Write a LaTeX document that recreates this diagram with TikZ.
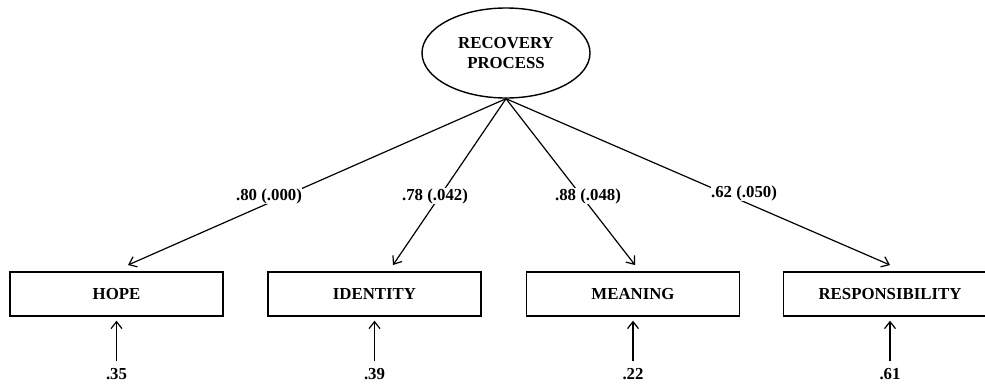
\documentclass[tikz,border=0pt]{standalone}
\usepackage{fontspec}
\setmainfont{Liberation Serif}
\usetikzlibrary{arrows.meta,shapes.geometric}
\begin{document}
\begin{tikzpicture}[x=1pt,y=-1pt,
  txt/.style={font=\fontsize{16.8}{20}\selectfont\bfseries},
  latent/.style={ellipse,draw,line width=1.4pt,minimum width=168pt,minimum height=90pt,inner sep=0pt,txt,align=center},
  obs/.style={rectangle,draw,line width=1.4pt,minimum width=213pt,minimum height=44pt,inner sep=0pt,txt},
  wlab/.style={txt,fill=white,inner sep=0.5pt},
  elab/.style={txt,inner sep=0pt},
  conn/.style={line width=1.2pt,-{Straight Barb[length=7pt,width=11pt,line width=1.2pt]}}
]
\useasboundingbox (0,0) rectangle (985,386);
\clip (0,0) rectangle (985,386);
\node[latent] (rp) at (506,53) {RECOVERY\\PROCESS};
\node[obs] (hope) at (116.5,294) {HOPE};
\node[obs] (iden) at (374.5,294) {IDENTITY};
\node[obs] (mean) at (633,294) {MEANING};
\node[obs] (resp) at (890,294) {RESPONSIBILITY};
\coordinate (t1) at (128,265);
\coordinate (t2) at (393,265);
\coordinate (t3) at (635,265);
\coordinate (t4) at (890,265);
\draw[conn] (rp.south) -- (t1);
\draw[conn] (rp.south) -- (t2);
\draw[conn] (rp.south) -- (t3);
\draw[conn] (rp.south) -- (t4);
\node[wlab] (w1) at (269,196) {.80 (.000)};
\node[wlab] (w2) at (435,196) {.78 (.042)};
\node[wlab] (w3) at (588,196) {.88 (.048)};
\node[wlab] (w4) at (744,193) {.62 (.050)};
\node[elab] (e1) at (116.5,374) {.35};
\node[elab] (e2) at (374.5,374) {.39};
\node[elab] (e3) at (633,374) {.22};
\node[elab] (e4) at (890,374) {.61};
\foreach \e/\b in {e1/hope,e2/iden,e3/mean,e4/resp}{
  \draw[conn,shorten <=7pt,shorten >=4pt] (\e.north) -- (\b.south);
}
\end{tikzpicture}
\end{document}
